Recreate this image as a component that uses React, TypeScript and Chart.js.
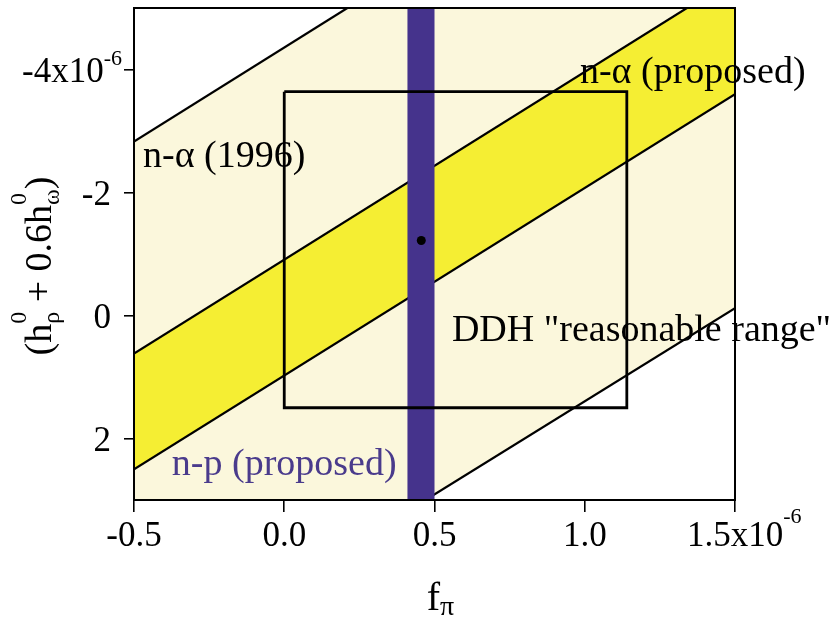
import React, { useEffect, useRef } from "react";
import { Chart, registerables } from "chart.js";

Chart.register(...registerables);

// ---- axis ranges & ticks ----
const X_MIN = -0.5;
const X_MAX = 1.5;
const Y_MIN = -5;
const Y_MAX = 3;
const xTickValues = [-0.5, 0.0, 0.5, 1.0, 1.5];
const xTickLabels = ["-0.5", "0.0", "0.5", "1.0", "1.5x10"];
const xTickSups = ["", "", "", "", "-6"];
const yTickValues = [-4, -2, 0, 2];
const yTickLabels = ["-4x10", "-2", "0", "2"];
const yTickSups = ["-6", "", "", ""];

// ---- constraint band boundaries (f_pi, h_rho + 0.6 h_omega) ----
const na1996Upper = [{ x: -0.5, y: -2.83 }, { x: 0.21, y: -5.0 }];
const na1996Lower = [{ x: 0.47, y: 3.0 }, { x: 1.5, y: -0.12 }];
const naProposedUpper = [{ x: -0.5, y: 0.62 }, { x: 1.34, y: -5.0 }];
const naProposedLower = [{ x: -0.5, y: 2.5 }, { x: 1.5, y: -3.6 }];
const npProposedRange = [0.41, 0.5];
const ddhBoxX = [0.0, 1.14];
const ddhBoxY = [-3.64, 1.5];
const ddhBest = [{ x: 0.456, y: -1.22 }];

// ---- annotation labels ----
const labelTexts = ["n-α (1996)", "n-α (proposed)", "DDH \"reasonable range\"", "n-p (proposed)"];
const labelAnchors = [
  { x: -0.47, y: -2.415 },
  { x: 0.984, y: -3.78 },
  { x: 0.558, y: 0.41 },
  { x: -0.374, y: 2.59 },
];
const labelColors = ["#000000", "#000000", "#000000", "#4a3b8c"];

const FONT = "'Liberation Serif', 'Times New Roman', serif";
const PALE = "#fbf7dc";
const YELLOW = "#f5ee33";
const PURPLE = "#45338c";

type Seg = { t: string; s: number; dy: number; overlay?: boolean };

function measureSegs(ctx: CanvasRenderingContext2D, segs: Seg[]) {
  let w = 0;
  let prevStart = 0;
  let prevW = 0;
  for (const g of segs) {
    ctx.font = `${g.s}px ${FONT}`;
    const gw = ctx.measureText(g.t).width;
    if (g.overlay) {
      w = Math.max(prevStart + prevW, prevStart + gw);
    } else {
      prevStart = w;
      prevW = gw;
      w += gw;
    }
  }
  return w;
}

function drawSegs(ctx: CanvasRenderingContext2D, segs: Seg[], x: number, y: number) {
  let cx = x;
  let prevStart = x;
  let prevW = 0;
  for (const g of segs) {
    ctx.font = `${g.s}px ${FONT}`;
    const gw = ctx.measureText(g.t).width;
    if (g.overlay) {
      ctx.fillText(g.t, prevStart, y + g.dy);
      cx = Math.max(prevStart + prevW, prevStart + gw);
    } else {
      ctx.fillText(g.t, cx, y + g.dy);
      prevStart = cx;
      prevW = gw;
      cx += gw;
    }
  }
}

const decorPlugin = {
  id: "decor",
  afterDatasetsDraw(chart: any) {
    const { ctx, chartArea, scales } = chart;
    const xs = scales.x;
    const ys = scales.y;
    ctx.save();
    // plot frame
    ctx.strokeStyle = "#000";
    ctx.lineWidth = 2;
    ctx.strokeRect(chartArea.left, chartArea.top, chartArea.right - chartArea.left, chartArea.bottom - chartArea.top);

    // annotation labels
    ctx.textAlign = "left";
    ctx.textBaseline = "alphabetic";
    ctx.font = `38px ${FONT}`;
    labelTexts.forEach((t, i) => {
      ctx.fillStyle = labelColors[i];
      ctx.fillText(t, xs.getPixelForValue(labelAnchors[i].x), ys.getPixelForValue(labelAnchors[i].y));
    });
    ctx.restore();
  },
  afterDraw(chart: any) {
    const { ctx, chartArea, scales } = chart;
    const xs = scales.x;
    const ys = scales.y;
    ctx.save();
    ctx.fillStyle = "#000";
    ctx.textAlign = "left";
    ctx.textBaseline = "alphabetic";
    const TICK = 35;
    const SUP = 22;

    // x tick labels
    xTickValues.forEach((v, i) => {
      const px = xs.getPixelForValue(v);
      ctx.font = `${TICK}px ${FONT}`;
      const mw = ctx.measureText(xTickLabels[i]).width;
      const segs: Seg[] = [{ t: xTickLabels[i], s: TICK, dy: 0 }];
      if (xTickSups[i]) segs.push({ t: xTickSups[i], s: SUP, dy: -23 });
      drawSegs(ctx, segs, px - mw / 2, chartArea.bottom + 46);
    });

    // y tick labels
    yTickValues.forEach((v, i) => {
      const py = ys.getPixelForValue(v);
      const segs: Seg[] = [{ t: yTickLabels[i], s: TICK, dy: 0 }];
      if (yTickSups[i]) segs.push({ t: yTickSups[i], s: SUP, dy: -17 });
      const w = measureSegs(ctx, segs);
      const right = chartArea.left - (yTickSups[i] ? 12 : 23);
      drawSegs(ctx, segs, right - w, py + 12);
    });

    // x title f_pi
    const xt: Seg[] = [
      { t: "f", s: 40, dy: 0 },
      { t: "π", s: 28, dy: 5 },
    ];
    const xtw = measureSegs(ctx, xt);
    drawSegs(ctx, xt, (chartArea.left + chartArea.right) / 2 + 6 - xtw / 2, chartArea.bottom + 110);

    // y title (h_rho^0 + 0.6 h_omega^0)
    const yt: Seg[] = [
      { t: "(h", s: 38, dy: 0 },
      { t: "ρ", s: 24, dy: 8 },
      { t: "0", s: 24, dy: -25, overlay: true },
      { t: " + 0.6h", s: 38, dy: 0 },
      { t: "ω", s: 24, dy: 8 },
      { t: "0", s: 24, dy: -25, overlay: true },
      { t: ")", s: 38, dy: 0 },
    ];
    const ytw = measureSegs(ctx, yt);
    ctx.translate(51, (chartArea.top + chartArea.bottom) / 2 + 12);
    ctx.rotate(-Math.PI / 2);
    drawSegs(ctx, yt, -ytw / 2, 0);
    ctx.restore();
  },
};

export default function App() {
  const ref = useRef<HTMLCanvasElement | null>(null);

  useEffect(() => {
    if (!ref.current) return;

    const paleBand = [
      ...na1996Upper,
      { x: X_MAX, y: Y_MIN },
      na1996Lower[1],
      na1996Lower[0],
      { x: X_MIN, y: Y_MAX },
      na1996Upper[0],
    ];
    const yellowBand = [
      ...naProposedUpper,
      { x: X_MAX, y: Y_MIN },
      naProposedLower[1],
      naProposedLower[0],
      naProposedUpper[0],
    ];
    const npBand = [
      { x: npProposedRange[0], y: Y_MIN },
      { x: npProposedRange[1], y: Y_MIN },
      { x: npProposedRange[1], y: Y_MAX },
      { x: npProposedRange[0], y: Y_MAX },
      { x: npProposedRange[0], y: Y_MIN },
    ];
    const ddhBox = [
      { x: ddhBoxX[0], y: ddhBoxY[0] },
      { x: ddhBoxX[1], y: ddhBoxY[0] },
      { x: ddhBoxX[1], y: ddhBoxY[1] },
      { x: ddhBoxX[0], y: ddhBoxY[1] },
      { x: ddhBoxX[0], y: ddhBoxY[0] },
    ];

    const lineDs = (data: any[], order: number) => ({
      data,
      showLine: true,
      borderColor: "#000",
      borderWidth: 2.2,
      pointRadius: 0,
      fill: false,
      order,
    });

    const chart = new Chart(ref.current, {
      type: "scatter",
      data: {
        datasets: [
          {
            data: ddhBest,
            pointRadius: 4.5,
            pointBackgroundColor: "#000",
            pointBorderWidth: 0,
            pointBorderColor: "#000",
            showLine: false,
            order: 0,
          } as any,
          {
            data: ddhBox,
            showLine: true,
            borderColor: "#000",
            borderWidth: 2.8,
            pointRadius: 0,
            fill: false,
            order: 1,
          },
          {
            data: npBand,
            showLine: true,
            borderColor: "rgba(0,0,0,0)",
            borderWidth: 0.01,
            backgroundColor: PURPLE,
            pointRadius: 0,
            fill: "shape",
            order: 2,
          },
          lineDs(na1996Upper, 3),
          lineDs(na1996Lower, 3),
          lineDs(naProposedUpper, 3),
          lineDs(naProposedLower, 3),
          {
            data: yellowBand,
            showLine: true,
            borderColor: "rgba(0,0,0,0)",
            borderWidth: 0.01,
            backgroundColor: YELLOW,
            pointRadius: 0,
            fill: "shape",
            order: 4,
          },
          {
            data: paleBand,
            showLine: true,
            borderColor: "rgba(0,0,0,0)",
            borderWidth: 0.01,
            backgroundColor: PALE,
            pointRadius: 0,
            fill: "shape",
            order: 5,
          },
        ] as any,
      },
      options: {
        animation: false,
        responsive: false,
        devicePixelRatio: 1,
        layout: { padding: { left: 124, top: 8, right: 99, bottom: 106 } },
        plugins: {
          legend: { display: false },
          tooltip: { enabled: false },
        },
        scales: {
          x: {
            type: "linear",
            min: X_MIN,
            max: X_MAX,
            afterBuildTicks: (s: any) => {
              s.ticks = xTickValues.map((v) => ({ value: v }));
            },
            ticks: { display: false },
            grid: {
              drawOnChartArea: false,
              drawTicks: true,
              tickLength: 12,
              color: "#000",
              lineWidth: 1.6,
            },
            border: { display: true, color: "#000", width: 2 },
          },
          y: {
            type: "linear",
            reverse: true,
            min: Y_MIN,
            max: Y_MAX,
            afterBuildTicks: (s: any) => {
              s.ticks = yTickValues.map((v) => ({ value: v }));
            },
            ticks: { display: false },
            grid: {
              drawOnChartArea: false,
              drawTicks: true,
              tickLength: 10,
              color: "#000",
              lineWidth: 1.6,
            },
            border: { display: true, color: "#000", width: 2 },
          },
        },
      } as any,
      plugins: [decorPlugin],
    });

    return () => chart.destroy();
  }, []);

  return (
    <div style={{ position: "absolute", left: 0, top: 0, width: 834, height: 618, background: "#fff" }}>
      <canvas ref={ref} width={834} height={618} style={{ display: "block", width: 834, height: 618 }} />
    </div>
  );
}
